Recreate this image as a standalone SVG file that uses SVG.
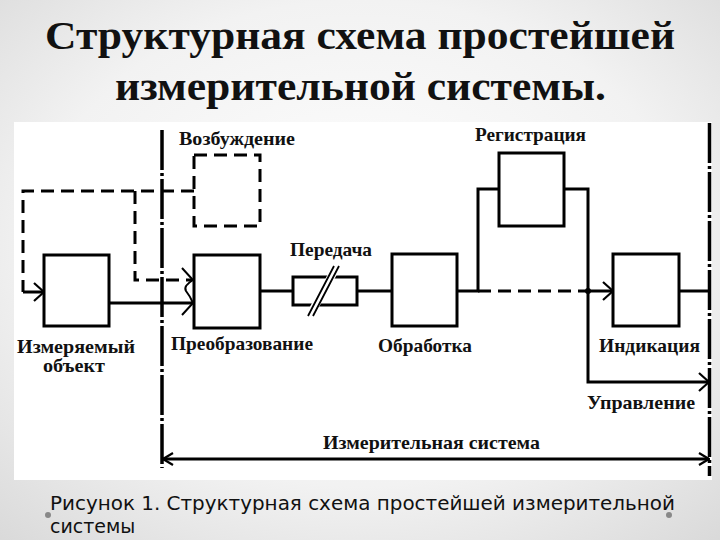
<svg xmlns="http://www.w3.org/2000/svg" width="720" height="540" viewBox="0 0 720 540">
<defs>
<radialGradient id="bg" cx="50%" cy="45%" r="75%">
<stop offset="0" stop-color="#ffffff"/>
<stop offset="0.6" stop-color="#f2f2f2"/>
<stop offset="1" stop-color="#d9d9d9"/>
</radialGradient>
<marker id="open" viewBox="0 0 12 20" refX="11" refY="10" markerWidth="12" markerHeight="20" markerUnits="userSpaceOnUse" orient="auto">
<path d="M1,1 L11,10 L1,19" fill="none" stroke="#000" stroke-width="2.2"/>
</marker>
<marker id="openS" viewBox="0 0 12 14" refX="11" refY="7" markerWidth="12" markerHeight="14" markerUnits="userSpaceOnUse" orient="auto-start-reverse">
<path d="M1,1 L11,7 L1,13" fill="none" stroke="#000" stroke-width="2.2"/>
</marker>
</defs>
<style>
.box{fill:#fff;stroke:#000;stroke-width:3}
.dbox{fill:none;stroke:#000;stroke-width:3;stroke-dasharray:13 7}
.ln{fill:none;stroke:#000;stroke-width:3}
.dl{fill:none;stroke:#000;stroke-width:3;stroke-dasharray:13 7}
.dd{fill:none;stroke:#000;stroke-width:3.5;stroke-dasharray:40 3 3 3}
.lbl{font-family:"Liberation Serif","Times New Roman",serif;font-weight:bold;font-size:19px;fill:#111}
.title{font-family:"Liberation Serif","Times New Roman",serif;font-weight:bold;font-size:40px;fill:#111}
.cap{font-family:"DejaVu Sans","Open Sans",sans-serif;font-size:19px;fill:#111}
</style>
<rect width="720" height="540" fill="url(#bg)"/>
<text class="title" x="45" y="49" textLength="630" lengthAdjust="spacingAndGlyphs">Структурная схема простейшей</text>
<text class="title" x="115" y="100" textLength="491" lengthAdjust="spacingAndGlyphs">измерительной системы.</text>
<rect x="14" y="122" width="698" height="358" fill="#fff"/>

<g id="connectors">
<path class="dd" d="M162,130 V468"/>
<path class="dd" d="M709.5,123 V476"/>
<path class="dl" d="M194,191 H23 V292"/>
<path class="ln" d="M23,292 H44" marker-end="url(#open)"/>
<path class="dl" d="M135,191 V280 H192"/>
<path class="ln" d="M109,303 H193"/>
<path fill="none" stroke="#000" stroke-width="2" d="M182,268 L193,280 Q183,286 186,291 Q190,296 193,303 L182,315"/>
<path class="ln" d="M260,291 H293"/>
<path class="ln" d="M357,291 H392"/>
<path class="ln" d="M457,291 H478 V189 H499"/>
<path class="ln" d="M564,189 H588 V382 H709" marker-end="url(#open)"/>
<path class="dl" d="M478,291 H588"/>
<circle cx="588" cy="291" r="3"/>
<path class="ln" d="M588,291 H613" marker-end="url(#open)"/>
<path class="ln" d="M679,291 H709"/>
<path class="ln" d="M163,459 H709" marker-start="url(#openS)" marker-end="url(#openS)"/>
</g>

<g id="izmeryaemy">
<rect class="box" x="44" y="255" width="65" height="71"/>
<text class="lbl" x="17" y="353" textLength="118" lengthAdjust="spacingAndGlyphs">Измеряемый</text>
<text class="lbl" x="43" y="372" textLength="62" lengthAdjust="spacingAndGlyphs">объект</text>
</g>
<g id="vozbuzhdenie">
<rect class="dbox" x="194" y="155" width="66" height="71"/>
<text class="lbl" x="179" y="145" textLength="116" lengthAdjust="spacingAndGlyphs">Возбуждение</text>
</g>
<g id="preobrazovanie">
<rect class="box" x="194" y="255" width="66" height="73"/>
<text class="lbl" x="171" y="350" textLength="142" lengthAdjust="spacingAndGlyphs">Преобразование</text>
</g>
<g id="peredacha">
<rect class="box" x="293" y="277" width="64" height="28"/>
<path d="M310,315 L337,266" stroke="#fff" stroke-width="8"/>
<path d="M308,316 L334,266 M313,316 L339,266" stroke="#000" stroke-width="1.8" fill="none"/>
<text class="lbl" x="290" y="256" textLength="82" lengthAdjust="spacingAndGlyphs">Передача</text>
</g>
<g id="obrabotka">
<rect class="box" x="392" y="254" width="65" height="72"/>
<text class="lbl" x="378" y="352" textLength="94" lengthAdjust="spacingAndGlyphs">Обработка</text>
</g>
<g id="registratsiya">
<rect class="box" x="499" y="153" width="65" height="73"/>
<text class="lbl" x="475" y="141" textLength="111" lengthAdjust="spacingAndGlyphs">Регистрация</text>
</g>
<g id="indikatsiya">
<rect class="box" x="613" y="254" width="66" height="72"/>
<text class="lbl" x="599" y="352" textLength="101" lengthAdjust="spacingAndGlyphs">Индикация</text>
</g>
<g id="upravlenie">
<text class="lbl" x="587" y="409" textLength="108" lengthAdjust="spacingAndGlyphs">Управление</text>
</g>
<g id="system">
<text class="lbl" x="323" y="449" textLength="217" lengthAdjust="spacingAndGlyphs">Измерительная система</text>
</g>

<circle cx="48" cy="515" r="3" fill="#888"/>
<circle cx="669" cy="515" r="3" fill="#888"/>
<text class="cap" x="50" y="510" textLength="625" lengthAdjust="spacingAndGlyphs">Рисунок 1. Структурная схема простейшей измерительной</text>
<text class="cap" x="50" y="533">системы</text>
</svg>
